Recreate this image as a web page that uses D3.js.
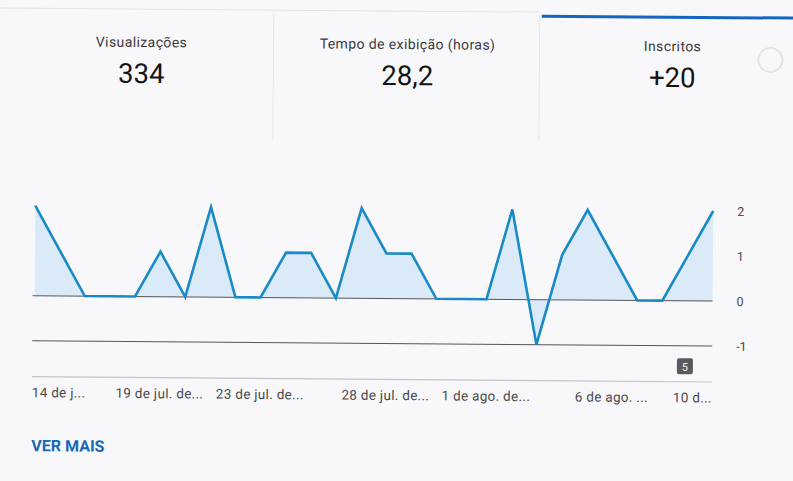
<!DOCTYPE html>
<html>
<head>
<meta charset="utf-8">
<script src="https://cdn.jsdelivr.net/npm/d3@7"></script>
<style>
  html, body { margin: 0; padding: 0; background: #f8f8fa; }
  svg { display: block; font-family: Roboto, "Noto Sans", sans-serif; }
</style>
</head>
<body>
<svg id="chart" width="793" height="481"></svg>
<script>
// Daily subscriber change, 14 jul – 10 ago
const days = [
  "14 jul", "15 jul", "16 jul", "17 jul", "18 jul", "19 jul", "20 jul",
  "21 jul", "22 jul", "23 jul", "24 jul", "25 jul", "26 jul", "27 jul",
  "28 jul", "29 jul", "30 jul", "31 jul", "1 ago", "2 ago", "3 ago",
  "4 ago", "5 ago", "6 ago", "7 ago", "8 ago", "9 ago", "10 ago"
];
const subscribers = [2, 1, 0, 0, 0, 1, 0, 2, 0, 0, 1, 1, 0, 2, 1, 1, 0, 0, 0, 2, -1, 1, 2, 1, 0, 0, 1, 2];

// Axis labels shown under the chart (index into days) and their truncated text
const xTickIndex = [0, 5, 9, 14, 18, 23, 27];
const xTickText = ["14 de j...", "19 de jul. de...", "23 de jul. de...", "28 de jul. de...", "1 de ago. de...", "6 de ago. ...", "10 d..."];
const yTicks = [2, 1, 0, -1];

// Summary cards
const cardTitles = ["Visualizações", "Tempo de exibição (horas)", "Inscritos"];
const cardValues = ["334", "28,2", "+20"];

const svg = d3.select("#chart");
const root = svg.append("g").attr("transform", "rotate(0.45 396 240)");

// ---- header tabs ----
root.append("line").attr("x1", -20).attr("x2", 538).attr("y1", 11).attr("y2", 11)
  .attr("stroke", "#e2e2e4").attr("stroke-width", 1);
root.append("rect").attr("x", 540).attr("y", 13.5).attr("width", 280).attr("height", 3)
  .attr("fill", "#1565c0");
[272, 538].forEach(x => {
  root.append("line").attr("x1", x).attr("x2", x).attr("y1", 14).attr("y2", 140)
    .attr("stroke", "#e6e6e8").attr("stroke-width", 1);
});
const cardCenters = [140, 406, 671];
cardTitles.forEach((t, i) => {
  root.append("text").attr("x", cardCenters[i]).attr("y", 49)
    .attr("text-anchor", "middle").attr("font-size", 14).attr("letter-spacing", 0.4)
    .attr("fill", "#3a3a3a").text(t);
  root.append("text").attr("x", cardCenters[i]).attr("y", 85)
    .attr("text-anchor", "middle").attr("font-size", 27.5).attr("fill", "#141414").text(cardValues[i]);
});
root.append("circle").attr("cx", 769).attr("cy", 57).attr("r", 12)
  .attr("fill", "none").attr("stroke", "#e4e4e6").attr("stroke-width", 2);

// ---- chart ----
const x = d3.scaleLinear().domain([0, days.length - 1]).range([35, 713]);
const y = d3.scaleLinear().domain([-1, 2]).range([343.5, 208.5]);

// reference line at -1
root.append("line").attr("x1", 33).attr("x2", 713).attr("y1", y(-1)).attr("y2", y(-1))
  .attr("stroke", "#555").attr("stroke-width", 1);
// bottom axis line
root.append("line").attr("x1", 33).attr("x2", 713).attr("y1", 379.5).attr("y2", 379.5)
  .attr("stroke", "#c4c4c6").attr("stroke-width", 1.2);

const area = d3.area().x((d, i) => x(i)).y0(y(0)).y1(d => y(d));
const line = d3.line().x((d, i) => x(i)).y(d => y(d));

root.append("path").datum(subscribers).attr("d", area)
  .attr("fill", "#d6e7f8").attr("fill-opacity", 0.85);
// zero line drawn above the fill
root.append("line").attr("x1", 33).attr("x2", 713).attr("y1", y(0)).attr("y2", y(0))
  .attr("stroke", "#555").attr("stroke-width", 1);
root.append("path").datum(subscribers).attr("d", line)
  .attr("fill", "none").attr("stroke", "#1a8ac6").attr("stroke-width", 2.6)
  .attr("stroke-linejoin", "miter");

// y axis labels on the right (plain hyphen for negatives)
const yAxis = d3.axisRight(y).tickValues(yTicks).tickSize(0).tickPadding(0)
  .tickFormat(d => String(d));
const yg = root.append("g").attr("transform", "translate(737,0)").call(yAxis);
yg.select(".domain").remove();
yg.selectAll("text").attr("font-size", 12.5).attr("fill", "#4a4a4a")
  .attr("font-family", "Roboto, sans-serif").attr("dy", "0.35em");

// x axis labels
xTickIndex.forEach((idx, k) => {
  const last = k === xTickIndex.length - 1;
  const anchor = k === 0 ? "start" : (last ? "end" : "middle");
  const px = k === 0 ? 33 : (last ? 713 : x(idx));
  root.append("text").attr("x", px).attr("y", 400)
    .attr("text-anchor", anchor).attr("font-size", 13.5).attr("letter-spacing", 0.3)
    .attr("fill", "#4a4a4a").text(xTickText[k]);
});

// annotation badge
const bx = x(26) - 2;
root.append("rect").attr("x", bx - 8).attr("y", 356).attr("width", 16).attr("height", 16)
  .attr("rx", 2).attr("fill", "#5a5a5c");
root.append("text").attr("x", bx).attr("y", 368.5).attr("text-anchor", "middle")
  .attr("font-size", 11).attr("fill", "#f0f0f0").text("5");

// footer link
root.append("text").attr("x", 33).attr("y", 454).attr("font-size", 16)
  .attr("font-weight", 700).attr("fill", "#1767b8")
  .text("VER MAIS");
</script>
</body>
</html>
